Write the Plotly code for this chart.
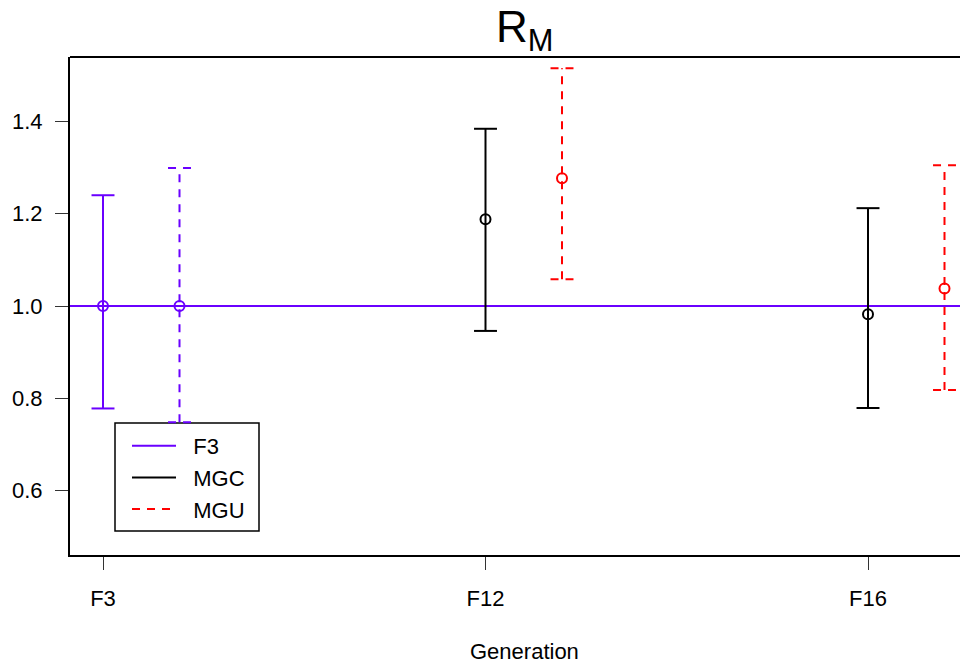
import plotly.graph_objects as go

# ---- data ----
generations = ["F3", "F12", "F16"]
gen_pos = [1, 2, 3]
mgu_offset = 0.2

f3_mean = [1.0]
f3_low = [0.778]
f3_high = [1.240]

f3u_mean = [1.0]
f3u_low = [0.748]
f3u_high = [1.299]

mgc_mean = [1.188, 0.982]
mgc_low = [0.946, 0.779]
mgc_high = [1.384, 1.212]

mgu_mean = [1.277, 1.038]
mgu_low = [1.058, 0.818]
mgu_high = [1.515, 1.305]

PURPLE = "#6A00FF"
RED = "#FF0000"
BLACK = "#000000"
CAP = 0.03
FONT = "Liberation Sans, Arial, sans-serif"
NB = "\u00a0\u00a0"

fig = go.Figure()


def add_series(xs, means, lows, highs, color, dash, name, label, showlegend):
    lx, ly = [], []
    for x, lo, hi in zip(xs, lows, highs):
        lx += [x, x, None, x - CAP, x + CAP, None, x - CAP, x + CAP, None]
        ly += [lo, hi, None, hi, hi, None, lo, lo, None]
    fig.add_trace(go.Scatter(
        x=lx, y=ly, mode="lines", name=label, legendgroup=name,
        showlegend=showlegend,
        line=dict(color=color, width=2, dash=dash),
        hoverinfo="skip",
    ))
    fig.add_trace(go.Scatter(
        x=xs, y=means, mode="markers", legendgroup=name, showlegend=False,
        marker=dict(symbol="circle-open", size=10, color=color,
                    line=dict(width=2, color=color)),
    ))


DASH = "8px,7px"
add_series([gen_pos[0]], f3_mean, f3_low, f3_high, PURPLE, "solid", "F3", NB + "F3", True)
add_series([gen_pos[0] + mgu_offset], f3u_mean, f3u_low, f3u_high, PURPLE, DASH, "F3u", "F3u", False)
add_series(gen_pos[1:], mgc_mean, mgc_low, mgc_high, BLACK, "solid", "MGC", NB + "MGC", True)
add_series([p + mgu_offset for p in gen_pos[1:]], mgu_mean, mgu_low, mgu_high, RED, DASH, "MGU", NB + "MGU", True)

# figure geometry (page has an 8px body margin)
L, T, PW, PH = 62, 49, 898, 498
W, H = L + PW, 656
PB = T + PH  # plot bottom in figure px

def px(fx):
    return (fx - L) / PW

def py(fy):
    return (PB - fy) / PH

x0 = 1 - 33 / 382.5
x1 = x0 + PW / 382.5

fig.update_layout(
    width=W, height=H,
    margin=dict(l=L, r=0, t=T, b=H - PB, pad=0),
    plot_bgcolor="white", paper_bgcolor="white",
    font=dict(family=FONT, size=22, color="black"),
    showlegend=True,
    legend=dict(
        x=px(119), y=py(417), xanchor="left", yanchor="top",
        borderwidth=0, bgcolor="rgba(0,0,0,0)",
        font=dict(size=22), itemwidth=44, tracegroupgap=0,
    ),
    xaxis=dict(
        range=[x0, x1], tickmode="array", tickvals=gen_pos, ticktext=generations,
        showgrid=False, zeroline=False, showline=True, linecolor="black", linewidth=2,
        ticks="outside", ticklen=13, tickcolor="#333", tickwidth=1,
        ticklabelstandoff=10,
    ),
    yaxis=dict(
        range=[0.4605, 1.5395], tickvals=[0.6, 0.8, 1.0, 1.2, 1.4], tickformat=".1f",
        showgrid=False, zeroline=False, showline=True, linecolor="black", linewidth=2,
        ticks="outside", ticklen=13, tickcolor="#333", tickwidth=1,
        ticklabelstandoff=8,
    ),
    shapes=[
        dict(type="line", xref="paper", yref="y", x0=0, x1=1, y0=1.0, y1=1.0,
             line=dict(color=PURPLE, width=2), layer="below"),
        dict(type="line", xref="paper", yref="paper", x0=0, x1=1.02, y0=1, y1=1,
             line=dict(color="black", width=2)),
        dict(type="rect", xref="paper", yref="paper",
             x0=px(107), x1=px(251), y0=py(523), y1=py(415),
             line=dict(color="black", width=1.5), fillcolor="white", layer="below"),
    ],
    annotations=[
        dict(text="R<sub>M</sub>", xref="paper", yref="paper",
             x=px(516), y=py(52), xanchor="center", yanchor="bottom",
             showarrow=False, font=dict(size=44, family=FONT)),
        dict(text="Generation", xref="paper", yref="paper",
             x=px(516), y=py(643), xanchor="center", yanchor="middle",
             showarrow=False, font=dict(size=22, family=FONT)),
    ],
)

fig.write_html("out.html")
